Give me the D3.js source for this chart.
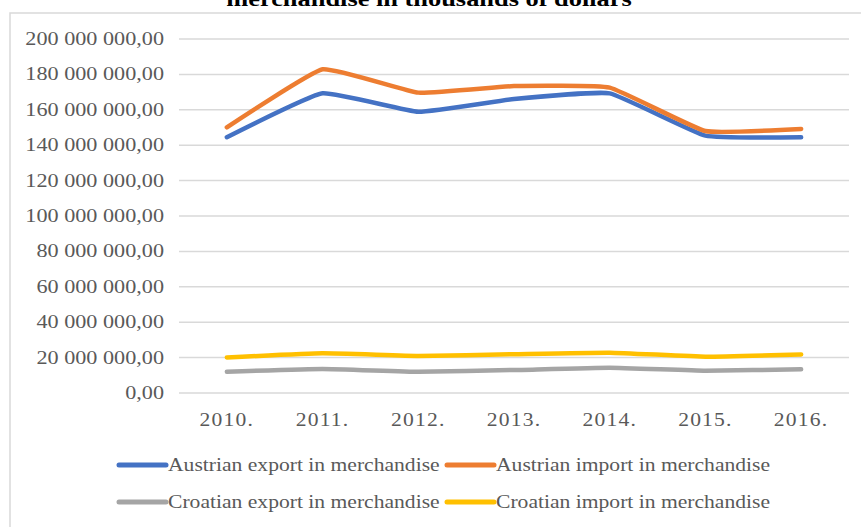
<!DOCTYPE html>
<html>
<head>
<meta charset="utf-8">
<script src="https://cdn.jsdelivr.net/npm/d3@7"></script>
<style>
  body { margin: 0; background: #fff; }
  text { font-family: "Liberation Serif", "Times New Roman", serif; }
</style>
</head>
<body>
<script>
// Data (values in thousands of dollars)
const years = ["2010.", "2011.", "2012.", "2013.", "2014.", "2015.", "2016."];
const austrianExport = [144500000, 169300000, 158900000, 166100000, 169300000, 145400000, 144500000];
const austrianImport = [150100000, 182900000, 169700000, 173400000, 172500000, 148000000, 149200000];
const croatianExport = [12000000, 13600000, 12000000, 13000000, 14300000, 12600000, 13400000];
const croatianImport = [20100000, 22400000, 20900000, 21900000, 22800000, 20500000, 21800000];
const yTicks = [0, 20000000, 40000000, 60000000, 80000000, 100000000, 120000000, 140000000, 160000000, 180000000, 200000000];

const series = [
    { name: "Austrian export in merchandise", values: austrianExport, color: "#4472C4" },
    { name: "Austrian import in merchandise", values: austrianImport, color: "#ED7D31" },
    { name: "Croatian export in merchandise", values: croatianExport, color: "#A5A5A5" },
    { name: "Croatian import in merchandise", values: croatianImport, color: "#FFC000" }
];

const W = 861, H = 527;
const plot = { left: 179, right: 849, top: 39, bottom: 393 };
const stretch = 1.2; // text in the picture is wide

const svg = d3.select("body")
    .append("svg")
    .attr("width", W)
    .attr("height", H);

// Chart frame
svg.append("rect")
    .attr("x", 10)
    .attr("y", 13)
    .attr("width", W + 20)
    .attr("height", H)
    .attr("fill", "#fff")
    .attr("stroke", "#d9d9d9")
    .attr("stroke-width", 1.5);

// Title (only its last line is visible)
svg.append("text")
    .attr("transform", `translate(429,6) scale(${stretch},1)`)
    .attr("text-anchor", "middle")
    .style("font-size", "22px")
    .style("font-weight", "bold")
    .style("fill", "#000")
    .text("merchandise in thousands of dollars");

// Scales
const x = d3.scalePoint().domain(years).range([plot.left, plot.right]).padding(0.5);
const y = d3.scaleLinear().domain([0, 200000000]).range([plot.bottom, plot.top]);

const fmt = d3.formatLocale({ decimal: ",", thousands: "\u00a0", grouping: [3], currency: ["", ""] }).format(",.2f");

// Gridlines
svg.append("g")
    .selectAll("line")
    .data(yTicks)
    .enter().append("line")
    .attr("x1", plot.left)
    .attr("x2", plot.right)
    .attr("y1", d => y(d))
    .attr("y2", d => y(d))
    .attr("stroke", "#d9d9d9")
    .attr("stroke-width", 1.5);

// Y labels
svg.append("g")
    .selectAll("text")
    .data(yTicks)
    .enter().append("text")
    .attr("transform", d => `translate(164,${y(d) + 6}) scale(${stretch},1)`)
    .attr("text-anchor", "end")
    .style("font-size", "18.5px")
    .style("fill", "#595959")
    .text(d => fmt(d).replace(/\u00a0/g, " "));

// X labels
svg.append("g")
    .selectAll("text")
    .data(years)
    .enter().append("text")
    .attr("transform", d => `translate(${x(d)},${plot.bottom + 33}) scale(${stretch},1)`)
    .attr("text-anchor", "middle")
    .style("font-size", "18px")
    .style("letter-spacing", "1px")
    .style("fill", "#595959")
    .text(d => d);

// Lines (lightly smoothed, like the spreadsheet chart)
const line = d3.line()
    .x((d, i) => x(years[i]))
    .y(d => y(d))
    .curve(d3.curveCardinal.tension(0.65));

svg.append("g")
    .selectAll("path")
    .data(series)
    .enter().append("path")
    .attr("d", d => line(d.values))
    .attr("fill", "none")
    .attr("stroke", d => d.color)
    .attr("stroke-width", 4.5)
    .attr("stroke-linecap", "round")
    .attr("stroke-linejoin", "round");

// Legend: two rows of two
const legend = svg.append("g");
const rowY = [465, 502];
const colX = [117, 445];

series.forEach((s, i) => {
    const lx = colX[i % 2];
    const ly = rowY[Math.floor(i / 2)];
    legend.append("line")
        .attr("x1", lx + 2)
        .attr("x2", lx + 49)
        .attr("y1", ly)
        .attr("y2", ly)
        .attr("stroke", s.color)
        .attr("stroke-width", 5)
        .attr("stroke-linecap", "round");
    legend.append("text")
        .attr("transform", `translate(${lx + 51},${ly + 6}) scale(${stretch},1)`)
        .style("font-size", "18px")
        .style("fill", "#595959")
        .text(s.name);
});
</script>
</body>
</html>
